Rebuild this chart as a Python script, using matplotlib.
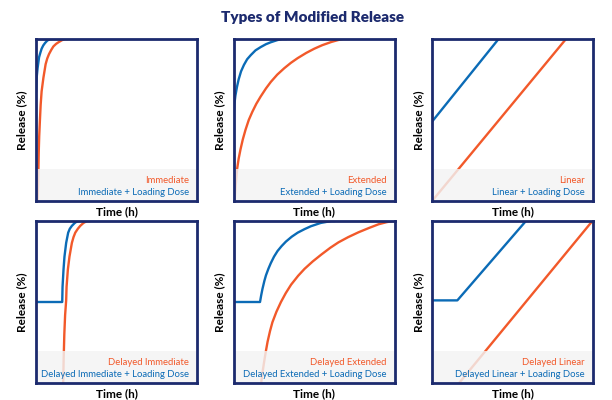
import matplotlib.pyplot as plt
from matplotlib.patches import Rectangle

plt.rcParams['font.family'] = ['Lato', 'DejaVu Sans']

ORANGE = '#f2592a'
BLUE = '#0b6bb6'
NAVY = '#1c2a6e'

# curves: time (% of window) vs release (%)
imm_x = [1, 1.3, 1.5, 1.7, 2, 2.5, 2.9, 3.5, 4.6, 6, 7, 8.1, 9.5, 10.8, 12.5, 14, 16, 18, 20]
imm_y = [0, 10, 19, 30, 40, 51, 59.3, 67.7, 76, 84.5, 88, 90.7, 93.3, 95.4, 97, 98, 99.2, 100, 100]
imm_ld_x = [0, 0.2, 0.4, 1, 1.9, 2.7, 3.5, 4.5, 5.6, 7, 8.75, 10]
imm_ld_y = [67, 72, 76, 82, 88.7, 91.5, 94, 96, 97.5, 99, 100, 100]

ext_x = [0.5, 1.2, 2.1, 3, 4.2, 5.6, 7.3, 9.3, 11.5, 14, 16.7, 20, 23, 27, 31.4,
         35.5, 39.7, 45, 50, 55, 60.7, 65, 68, 72]
ext_y = [0, 10, 20, 26, 32, 38, 44, 50, 55, 60, 64.5, 69.5, 73.5, 78, 82,
         85.3, 88.2, 91.4, 94, 96.2, 98.2, 99.4, 100, 100]
ext_ld_x = [0, 0.4, 1, 2, 3, 4.5, 6.3, 8.3, 10.5, 13.5, 16.7, 20, 23, 27, 30, 33]
ext_ld_y = [54, 60, 65, 70.5, 75, 80, 84, 87.5, 90, 93, 95, 96.8, 98, 99.3, 100, 100]

lin_x = [0, 83.2]
lin_y = [0, 100]
lin_ld_x = [0, 41.3]
lin_ld_y = [49, 100]

dimm_x = [16.9, 17.2, 17.6, 18.1, 18.75, 19, 19.8, 20.8, 22.3, 23.3, 24.4, 26,
          27.5, 29.5, 31.7, 34]
dimm_y = [0, 15, 30, 42, 51, 59.3, 70, 78, 86.5, 90, 92.8, 95.2, 97, 98.8, 100, 100]
dimm_ld_x = [0, 16.3, 16.5, 17.1, 17.7, 18.75, 20, 21, 22.3, 24, 25.4, 26.5, 28]
dimm_ld_y = [50, 50, 59.3, 70, 78, 86.5, 92.8, 95.2, 97, 98.7, 99.7, 100, 100]

dext_x = [17, 18, 19, 20, 21, 22.5, 24, 26.5, 29.3, 32.3, 35.6, 40, 44, 49, 54.4,
          60, 65, 71, 77.4, 84, 90, 95, 99, 100]
dext_y = [0, 7.5, 14, 20, 25.5, 32, 37.5, 44, 50, 55.5, 60.7, 66.2, 70.5, 75, 79.3,
          83.5, 86.8, 90, 93, 95.7, 98, 99.3, 100, 100]
dext_ld_x = [0, 16.3, 17, 17.8, 19, 20, 21.5, 23, 25, 27.2, 29.7, 32.4, 36, 39.7,
             44, 48, 54, 60.7, 63]
dext_ld_y = [50, 50, 54, 58, 63, 66.5, 70.5, 74, 78, 81.5, 84.5, 87.3, 90.3, 92.8,
             95, 96.8, 98.8, 100, 100]

dlin_x = [16.8, 99.6]
dlin_y = [0, 100]
dlin_ld_x = [0, 15.7, 58.3]
dlin_ld_y = [51, 51, 100]

panels = [
    (imm_x, imm_y, imm_ld_x, imm_ld_y, 'Immediate'),
    (ext_x, ext_y, ext_ld_x, ext_ld_y, 'Extended'),
    (lin_x, lin_y, lin_ld_x, lin_ld_y, 'Linear'),
    (dimm_x, dimm_y, dimm_ld_x, dimm_ld_y, 'Delayed Immediate'),
    (dext_x, dext_y, dext_ld_x, dext_ld_y, 'Delayed Extended'),
    (dlin_x, dlin_y, dlin_ld_x, dlin_ld_y, 'Delayed Linear'),
]

fig = plt.figure(figsize=(6.12, 4.0), dpi=100)
fig.text(0.51, 0.957, 'Types of Modified Release', ha='center', va='center',
         fontsize=11, fontweight='heavy', color=NAVY)

lefts = [0.0588, 0.382, 0.706]
bottoms = [0.4975, 0.0425]

for i, (x, y, xl, yl, name) in enumerate(panels):
    ax = fig.add_axes([lefts[i % 3], bottoms[i // 3], 0.263, 0.405])
    ax.plot(x, y, color=ORANGE, lw=1.7, solid_capstyle='butt', solid_joinstyle='round')
    ax.plot(xl, yl, color=BLUE, lw=1.7, solid_capstyle='butt', solid_joinstyle='round')
    ax.add_patch(Rectangle((0, 0), 100, 20, facecolor='#f3f3f3', alpha=0.82,
                           edgecolor='none', zorder=3))
    ax.text(95, 12.5, name, color=ORANGE, fontsize=6.8, ha='right',
            va='center', zorder=4)
    ax.text(95, 5.5, name + ' + Loading Dose', color=BLUE, fontsize=6.8,
            ha='right', va='center', zorder=4)
    ax.set_xlim(0, 100)
    ax.set_ylim(0, 100)
    ax.set_xticks([])
    ax.set_yticks([])
    for s in ax.spines.values():
        s.set_color(NAVY)
        s.set_linewidth(2)
        s.set_zorder(5)
    ax.set_xlabel('Time (h)', fontsize=8.5, fontweight='bold', labelpad=3.5)
    ax.set_ylabel('Release (%)', fontsize=8.5, fontweight='bold', labelpad=6)

fig.savefig('out.png', dpi=100)
